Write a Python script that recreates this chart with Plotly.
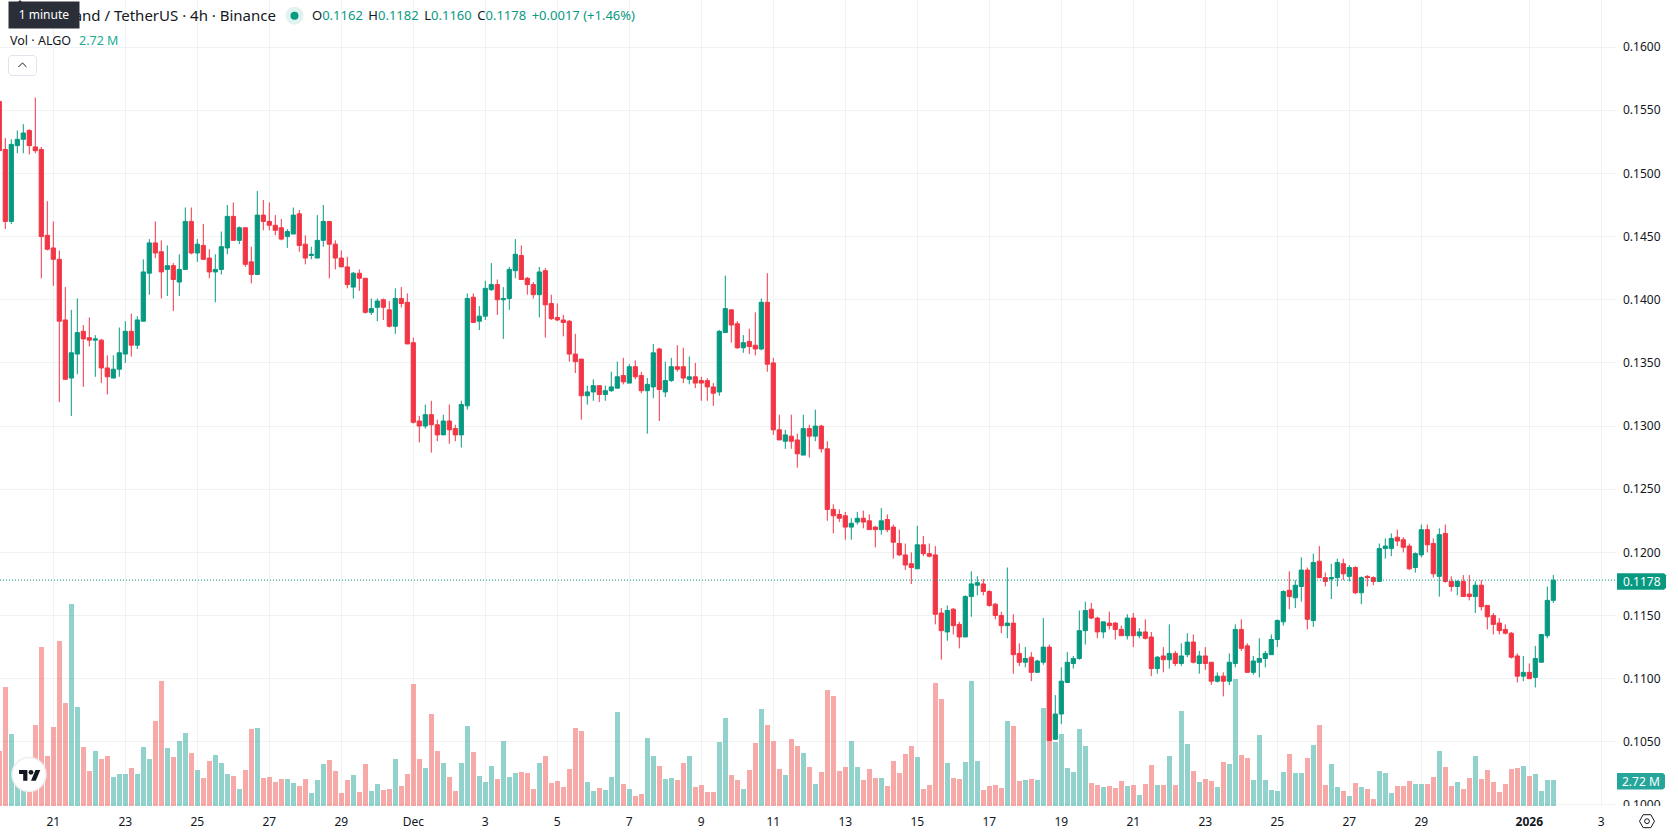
import pandas as pd
import plotly.graph_objects as go

# ALGO/USDT 4h candles, oldest bar first
FIRST_BAR = "2025-11-19 12:00"
OPEN = [
 .1557,.1519,.1462,.1522,.1527,.1534,.1521,.1519,.1451,.1441,
 .1432,.1384,.1338,.1357,.1375,.1370,.1368,.1368,.1346,.1338,
 .1345,.1357,.1375,.1364,.1383,.1421,.1445,.1438,.1424,.1427,
 .1414,.1424,.1462,.1437,.1443,.1433,.1422,.1424,.1441,.1466,
 .1447,.1457,.1430,.1420,.1467,.1462,.1459,.1457,.1450,.1452,
 .1468,.1444,.1435,.1433,.1447,.1462,.1444,.1433,.1426,.1410,
 .1421,.1417,.1390,.1394,.1400,.1392,.1379,.1401,.1398,.1366,
 .1304,.1300,.1309,.1301,.1293,.1304,.1298,.1293,.1316,.1402,
 .1383,.1387,.1408,.1412,.1400,.1401,.1423,.1435,.1417,.1412,
 .1404,.1423,.1397,.1386,.1384,.1383,.1357,.1353,.1324,.1327,
 .1332,.1325,.1328,.1330,.1340,.1334,.1347,.1340,.1328,.1331,
 .1361,.1327,.1336,.1347,.1347,.1337,.1339,.1336,.1336,.1331,
 .1327,.1374,.1392,.1381,.1362,.1367,.1364,.1361,.1398,.1350,
 .1297,.1288,.1292,.1289,.1277,.1298,.1292,.1300,.1282,.1234,
 .1230,.1229,.1220,.1224,.1227,.1225,.1220,.1218,.1226,.1220,
 .1207,.1198,.1191,.1187,.1206,.1199,.1198,.1152,.1137,.1155,
 .1143,.1133,.1165,.1174,.1175,.1169,.1159,.1150,.1142,.1144,
 .1120,.1113,.1117,.1105,.1113,.1125,.1052,.1072,.1097,.1112,
 .1116,.1138,.1155,.1148,.1137,.1144,.1144,.1139,.1134,.1148,
 .1134,.1137,.1133,.1108,.1118,.1115,.1120,.1112,.1119,.1129,
 .1112,.1118,.1113,.1098,.1102,.1098,.1112,.1139,.1126,.1105,
 .1113,.1116,.1119,.1131,.1145,.1170,.1164,.1173,.1186,.1146,
 .1193,.1180,.1179,.1180,.1191,.1181,.1188,.1168,.1181,.1180,
 .1177,.1203,.1203,.1212,.1210,.1205,.1188,.1198,.1218,.1207,
 .1181,.1215,.1177,.1173,.1177,.1167,.1165,.1174,.1158,.1150,
 .1144,.1139,.1136,.1118,.1102,.1105,.1101,.1113,.1134,.1162,
]
HIGH = [
 .1559,.1528,.1527,.1534,.1539,.1535,.1560,.1521,.1478,.1462,
 .1439,.1410,.1392,.1401,.1380,.1386,.1372,.1369,.1356,.1356,
 .1378,.1383,.1389,.1387,.1432,.1448,.1462,.1447,.1443,.1429,
 .1436,.1473,.1473,.1448,.1460,.1440,.1436,.1454,.1475,.1477,
 .1458,.1457,.1442,.1486,.1479,.1477,.1467,.1464,.1456,.1473,
 .1471,.1451,.1442,.1467,.1475,.1462,.1447,.1439,.1434,.1422,
 .1424,.1417,.1401,.1401,.1401,.1399,.1409,.1410,.1405,.1370,
 .1308,.1317,.1320,.1305,.1309,.1317,.1301,.1320,.1405,.1405,
 .1395,.1415,.1429,.1416,.1410,.1426,.1448,.1443,.1418,.1414,
 .1426,.1425,.1404,.1397,.1388,.1384,.1373,.1353,.1332,.1337,
 .1332,.1332,.1343,.1351,.1354,.1349,.1352,.1343,.1338,.1365,
 .1362,.1351,.1354,.1364,.1362,.1355,.1350,.1339,.1338,.1334,
 .1376,.1419,.1392,.1383,.1372,.1377,.1390,.1401,.1421,.1354,
 .1309,.1297,.1309,.1294,.1309,.1301,.1313,.1301,.1288,.1238,
 .1234,.1232,.1227,.1232,.1233,.1230,.1221,.1235,.1230,.1222,
 .1218,.1207,.1200,.1221,.1213,.1207,.1205,.1156,.1158,.1156,
 .1145,.1166,.1185,.1181,.1179,.1170,.1160,.1153,.1188,.1151,
 .1128,.1125,.1121,.1115,.1148,.1127,.1087,.1109,.1121,.1118,
 .1154,.1161,.1160,.1149,.1145,.1153,.1145,.1142,.1151,.1152,
 .1140,.1147,.1137,.1118,.1125,.1143,.1122,.1128,.1136,.1135,
 .1122,.1125,.1113,.1105,.1105,.1120,.1143,.1147,.1128,.1118,
 .1132,.1122,.1135,.1147,.1170,.1185,.1178,.1196,.1188,.1199,
 .1205,.1184,.1191,.1195,.1195,.1190,.1189,.1181,.1182,.1181,
 .1207,.1211,.1215,.1218,.1212,.1207,.1200,.1222,.1222,.1211,
 .1219,.1222,.1181,.1178,.1182,.1182,.1177,.1178,.1158,.1152,
 .1148,.1143,.1137,.1120,.1118,.1112,.1126,.1135,.1173,.1182,
]
LOW = [
 .1516,.1456,.1460,.1516,.1516,.1515,.1516,.1417,.1439,.1411,
 .1319,.1337,.1308,.1341,.1331,.1363,.1339,.1334,.1325,.1338,
 .1339,.1350,.1355,.1361,.1383,.1404,.1433,.1401,.1403,.1391,
 .1403,.1424,.1436,.1430,.1432,.1417,.1398,.1420,.1436,.1447,
 .1444,.1426,.1413,.1420,.1455,.1455,.1451,.1447,.1441,.1452,
 .1438,.1428,.1432,.1433,.1442,.1417,.1424,.1426,.1409,.1401,
 .1407,.1389,.1388,.1383,.1384,.1378,.1373,.1394,.1365,.1302,
 .1287,.1298,.1279,.1288,.1293,.1286,.1288,.1283,.1313,.1382,
 .1376,.1384,.1407,.1388,.1369,.1392,.1417,.1416,.1404,.1401,
 .1386,.1370,.1384,.1383,.1371,.1351,.1342,.1305,.1317,.1320,
 .1319,.1320,.1327,.1330,.1333,.1334,.1337,.1326,.1294,.1322,
 .1304,.1323,.1335,.1343,.1334,.1333,.1330,.1320,.1320,.1316,
 .1324,.1374,.1366,.1361,.1358,.1357,.1356,.1360,.1343,.1293,
 .1289,.1282,.1282,.1267,.1277,.1275,.1288,.1279,.1225,.1215,
 .1224,.1210,.1210,.1222,.1219,.1218,.1204,.1214,.1216,.1195,
 .1197,.1186,.1175,.1187,.1197,.1196,.1143,.1115,.1130,.1135,
 .1124,.1133,.1149,.1166,.1166,.1157,.1147,.1136,.1132,.1104,
 .1110,.1109,.1098,.1105,.1111,.1051,.1052,.1064,.1097,.1108,
 .1115,.1127,.1147,.1132,.1132,.1139,.1131,.1134,.1131,.1125,
 .1132,.1131,.1102,.1104,.1105,.1108,.1110,.1110,.1117,.1112,
 .1104,.1107,.1095,.1097,.1086,.1095,.1109,.1122,.1105,.1103,
 .1101,.1109,.1119,.1125,.1142,.1155,.1156,.1161,.1139,.1141,
 .1180,.1173,.1163,.1173,.1178,.1177,.1167,.1159,.1173,.1174,
 .1177,.1195,.1197,.1205,.1200,.1186,.1184,.1196,.1200,.1180,
 .1165,.1176,.1169,.1166,.1165,.1162,.1152,.1154,.1139,.1135,
 .1135,.1135,.1116,.1097,.1098,.1100,.1093,.1113,.1132,.1160,
]
CLOSE = [
 .1518,.1462,.1523,.1527,.1532,.1522,.1518,.1450,.1440,.1432,
 .1383,.1337,.1358,.1374,.1369,.1368,.1369,.1346,.1339,.1345,
 .1358,.1375,.1364,.1384,.1422,.1445,.1437,.1422,.1427,.1416,
 .1424,.1462,.1437,.1444,.1432,.1422,.1424,.1442,.1466,.1447,
 .1457,.1428,.1420,.1467,.1462,.1459,.1455,.1448,.1454,.1467,
 .1443,.1433,.1436,.1447,.1462,.1444,.1433,.1426,.1412,.1421,
 .1417,.1390,.1393,.1399,.1394,.1379,.1401,.1397,.1365,.1303,
 .1300,.1309,.1301,.1293,.1304,.1297,.1293,.1317,.1401,.1382,
 .1387,.1409,.1412,.1400,.1401,.1424,.1436,.1416,.1412,.1404,
 .1422,.1396,.1385,.1384,.1382,.1357,.1351,.1324,.1327,.1332,
 .1325,.1328,.1331,.1339,.1335,.1347,.1339,.1328,.1333,.1358,
 .1329,.1336,.1347,.1345,.1338,.1339,.1334,.1334,.1331,.1326,
 .1375,.1393,.1380,.1362,.1366,.1363,.1361,.1398,.1349,.1297,
 .1289,.1293,.1288,.1278,.1298,.1292,.1300,.1282,.1234,.1229,
 .1227,.1220,.1223,.1227,.1224,.1218,.1218,.1225,.1218,.1208,
 .1198,.1190,.1188,.1206,.1199,.1197,.1151,.1138,.1154,.1142,
 .1133,.1165,.1175,.1176,.1169,.1158,.1150,.1142,.1144,.1119,
 .1113,.1116,.1105,.1114,.1125,.1051,.1072,.1098,.1113,.1116,
 .1138,.1154,.1148,.1137,.1145,.1142,.1139,.1134,.1148,.1134,
 .1137,.1132,.1108,.1117,.1115,.1120,.1112,.1118,.1129,.1113,
 .1118,.1112,.1098,.1102,.1098,.1113,.1139,.1124,.1105,.1114,
 .1116,.1120,.1131,.1146,.1169,.1165,.1174,.1186,.1147,.1192,
 .1180,.1177,.1180,.1192,.1183,.1188,.1168,.1180,.1180,.1177,
 .1203,.1205,.1211,.1209,.1204,.1187,.1199,.1218,.1206,.1183,
 .1214,.1177,.1173,.1177,.1165,.1165,.1174,.1157,.1149,.1143,
 .1138,.1136,.1117,.1102,.1105,.1100,.1116,.1135,.1162,.1178,
]
# Traded volume per bar, millions of ALGO
VOLUME = [
 5.79,12.57,7.59,3.36,3.00,4.20,8.55,16.81,5.26,8.34,
 17.45,10.88,21.37,10.45,6.22,3.67,5.79,4.94,5.26,3.04,
 3.36,3.36,3.99,3.36,6.22,4.94,8.97,13.21,6.11,5.16,
 6.85,7.70,5.58,3.78,2.93,4.73,5.37,4.52,3.36,3.14,
 1.77,3.78,8.12,8.23,2.93,3.04,2.51,2.83,2.83,2.40,
 2.08,2.83,1.34,2.72,4.42,4.84,3.67,1.34,2.72,3.25,
 1.45,4.42,1.55,2.30,1.66,1.77,4.94,2.08,3.36,12.89,
 4.94,3.99,9.71,5.79,4.52,3.04,1.55,4.52,8.44,5.69,
 3.14,2.51,4.20,2.83,6.85,3.04,3.46,3.57,3.46,1.77,
 4.52,5.26,2.40,2.61,1.98,3.89,8.23,7.91,2.51,1.55,
 1.87,1.66,3.04,9.92,2.30,1.77,1.02,1.24,7.17,5.26,
 4.20,2.83,2.93,2.72,4.52,5.26,1.98,2.19,1.45,1.45,
 6.75,9.29,3.25,2.72,1.77,3.78,6.64,10.24,8.55,6.85,
 3.89,3.25,7.06,6.32,5.58,4.10,2.30,3.57,12.26,11.62,
 3.67,4.10,6.85,4.10,2.72,3.89,2.93,2.93,2.08,4.73,
 3.46,5.47,6.32,5.16,1.77,2.19,13.00,11.30,4.52,2.93,
 2.83,4.63,13.21,4.73,1.66,2.08,2.19,1.87,8.97,8.44,
 2.61,2.72,2.83,2.72,10.35,6.96,6.75,7.59,3.99,3.57,
 8.12,6.32,2.40,2.19,1.98,2.08,1.87,2.61,2.08,2.19,
 1.13,2.30,4.31,2.19,2.19,5.26,2.19,10.03,6.53,3.67,
 2.51,2.83,2.61,1.98,4.63,4.42,13.42,5.37,5.05,2.72,
 7.49,2.72,1.66,1.55,3.57,5.47,3.46,3.46,5.05,6.43,
 8.55,2.19,4.42,1.98,1.55,1.02,2.40,1.98,1.77,0.71,
 3.67,3.46,1.34,2.08,2.08,2.61,2.30,2.30,2.30,3.04,
 5.79,4.10,2.08,2.51,1.77,2.93,5.26,2.83,3.78,2.51,
 1.45,2.30,3.89,3.99,4.20,3.14,3.36,1.55,2.72,2.72,
]
LAST_PRICE = 0.1178
LAST_VOLUME_LABEL = "2.72 M"

TICK_DATES = ["2025-11-21", "2025-11-23", "2025-11-25", "2025-11-27", "2025-11-29",
              "2025-12-01", "2025-12-03", "2025-12-05", "2025-12-07", "2025-12-09",
              "2025-12-11", "2025-12-13", "2025-12-15", "2025-12-17", "2025-12-19",
              "2025-12-21", "2025-12-23", "2025-12-25", "2025-12-27", "2025-12-29",
              "2026-01-01", "2026-01-03"]
TICK_TEXT = ["21", "23", "25", "27", "29", "Dec", "3", "5", "7", "9", "11", "13", "15",
             "17", "19", "21", "23", "25", "27", "29", "<b>2026</b>", "3"]

WIDTH, HEIGHT = 1678, 835
RIGHT, BOTTOM = 62, 28.5
PLOT_W, PLOT_H = WIDTH - RIGHT, HEIGHT - BOTTOM

FONT = "Noto Sans"
INK = "#131722"
GRID = "#f1f2f4"
UP = "#089981"
DOWN = "#f23645"
VOL_UP = "rgba(38,166,154,0.5)"
VOL_DOWN = "rgba(239,83,80,0.5)"

dates = pd.date_range(FIRST_BAR, periods=len(CLOSE), freq="4h")


def fx(px):
    return px / PLOT_W


def fy(py):
    return 1 - py / PLOT_H


def poly(points, close=True):
    d = "M" + " L".join(f"{fx(x):.6f},{fy(y):.6f}" for x, y in points)
    return d + (" Z" if close else "")


def shape_path(points, fill="rgba(0,0,0,0)", line=None, width=1, close=True):
    return dict(type="path", xref="paper", yref="paper", layer="above", path=poly(points, close),
                fillcolor=fill, line=dict(color=line or "rgba(0,0,0,0)", width=width if line else 0))


def shape_box(x0, y0, x1, y1, fill="rgba(0,0,0,0)", line=None):
    return dict(type="rect", xref="paper", yref="paper", layer="above",
                x0=fx(x0), x1=fx(x1), y0=fy(y1), y1=fy(y0), fillcolor=fill,
                line=dict(color=line or "rgba(0,0,0,0)", width=1 if line else 0))


def shape_disc(cx, cy, r, fill, line=None, width=1):
    return dict(type="circle", xref="paper", yref="paper", layer="above",
                x0=fx(cx - r), x1=fx(cx + r), y0=fy(cy + r), y1=fy(cy - r), fillcolor=fill,
                line=dict(color=line or "rgba(0,0,0,0)", width=width if line else 0))


def label(px, py, text, size=13, color=INK, anchor="left", **extra):
    return dict(xref="paper", yref="paper", x=fx(px), y=fy(py), text=text, showarrow=False,
                xanchor=anchor, yanchor="middle", font=dict(family=FONT, size=size, color=color),
                **extra)


def num(text):
    return f'<span style="color:{UP}">{text}</span>'


fig = go.Figure()
fig.add_trace(go.Bar(
    x=dates, y=VOLUME, yaxis="y", width=4 * 3600 * 1000 * 5.2 / 6,
    marker=dict(color=[VOL_UP if c >= o else VOL_DOWN for o, c in zip(OPEN, CLOSE)], line_width=0),
    hoverinfo="skip", showlegend=False,
))
fig.add_trace(go.Candlestick(
    x=dates, open=OPEN, high=HIGH, low=LOW, close=CLOSE, yaxis="y2",
    increasing=dict(line=dict(color=UP, width=1), fillcolor=UP),
    decreasing=dict(line=dict(color=DOWN, width=1), fillcolor=DOWN),
    whiskerwidth=0, showlegend=False,
))

shapes = [
    # last-price line
    dict(type="line", xref="paper", yref="y2", layer="above", x0=0, x1=1,
         y0=LAST_PRICE, y1=LAST_PRICE, line=dict(color=UP, width=1, dash="1px,2px")),
    # hides the part of the lowest price label that falls below the pane
    shape_box(1617, 806.5, WIDTH, HEIGHT, fill="#ffffff"),
    # axis badges
    shape_path([(1617, 573.5), (1664, 573.5), (1666, 575.5), (1666, 588), (1664, 590), (1617, 590)], fill=UP),
    shape_path([(1617, 773.5), (1663, 773.5), (1665, 775.5), (1665, 788), (1663, 790), (1617, 790)], fill="#26a69a"),
    # status dot
    shape_disc(294.5, 15.7, 9, "rgba(8,153,129,0.12)"),
    shape_disc(294.5, 15.7, 4, UP),
    # collapse button
    shape_path([(11, 55.5), (34, 55.5), (36.5, 58), (36.5, 73), (34, 75.5), (11, 75.5), (8.5, 73), (8.5, 58)],
               fill="#ffffff", line="#e0e3eb"),
    shape_path([(18.5, 67), (22.5, 63), (26.5, 67)], line=INK, close=False),
    # tooltip pointer
    shape_path([(16, 4), (20, 0), (24, 4)], fill="#2a2e39"),
    # chart-library badge
    shape_disc(29, 775, 17, "#ffffff", line="#eceef2", width=1.5),
    shape_path([(27.4, 781.2), (23.2, 781.2), (23.2, 774.6), (19, 774.6), (19, 770.4), (27.4, 770.4)], fill=INK),
    shape_path([(35.8, 781.2), (31, 781.2), (35.5, 770.4), (40.3, 770.4)], fill=INK),
    shape_disc(31, 772.8, 2.4, INK),
    # pane settings button
    shape_path([(1639.5, 821.7), (1643.2, 815.2), (1650.8, 815.2), (1654.5, 821.7), (1650.8, 828.2), (1643.2, 828.2)],
               line=INK),
    shape_disc(1647, 821.7, 2.4, "rgba(0,0,0,0)", line=INK),
]

GAP = " \u2009"
annotations = [
    label(277.7, 15.5, "Algorand / TetherUS · 4h · Binance", size=15, anchor="right"),
    label(8, 15, "1 minute", size=12, color="#ffffff", bgcolor="#2a2e39", width=68, height=23.5, align="center"),
    label(309.5, 15.5,
          f"O{num('0.1162')}{GAP}H{num('0.1182')}{GAP}L{num('0.1160')}{GAP}C{num('0.1178')}{GAP}"
          f"{num('+0.0017 (+1.46%)')}",
          size=13),
    label(8, 41, "Vol · ALGO", size=12.5),
    label(76.5, 41, LAST_VOLUME_LABEL, size=12.5, color="#22ab94"),
    label(1641.5, 581.7, f"{LAST_PRICE:.4f}", size=12, color="#ffffff", anchor="center"),
    label(1641, 781.7, LAST_VOLUME_LABEL, size=12, color="#ffffff", anchor="center"),
]

fig.update_layout(
    width=WIDTH, height=HEIGHT, autosize=False,
    margin=dict(l=0, r=RIGHT, t=0, b=BOTTOM, pad=0),
    paper_bgcolor="#ffffff", plot_bgcolor="#ffffff",
    font=dict(family=FONT, size=12, color=INK),
    boxmode="overlay", boxgap=0, bargap=0, hovermode=False, showlegend=False,
    xaxis=dict(
        type="date", range=["2025-11-19 12:28", "2026-01-03 09:48"],
        tickmode="array", tickvals=TICK_DATES, ticktext=TICK_TEXT, tickangle=0,
        showgrid=True, gridcolor=GRID, gridwidth=1, ticks="", ticklabelstandoff=7,
        showline=False, zeroline=False, rangeslider=dict(visible=False), automargin=False,
    ),
    yaxis=dict(range=[0, 85.4], visible=False, showgrid=False, zeroline=False, fixedrange=True),
    yaxis2=dict(
        overlaying="y", side="right", anchor="x", range=[0.09992, 0.16373],
        tick0=0.1, dtick=0.005, tickformat=".4f", showgrid=True, gridcolor=GRID, gridwidth=1,
        ticks="", ticklabelstandoff=6, showline=False, zeroline=False, automargin=False,
    ),
    shapes=shapes, annotations=annotations,
)

fig.write_html("out.html")
